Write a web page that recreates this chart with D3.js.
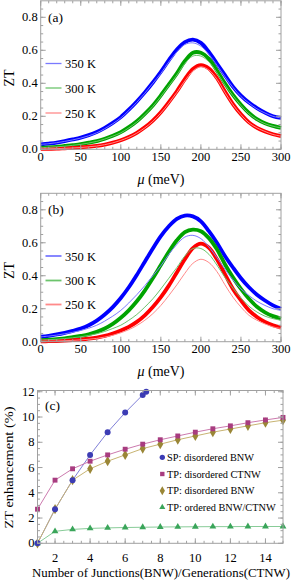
<!DOCTYPE html>
<html>
<head>
<meta charset="utf-8">
<script src="https://cdn.jsdelivr.net/npm/d3@7"></script>
<style>
  body { margin: 0; background: #fff; }
  svg text { font-family: "Liberation Serif", "Times New Roman", "DejaVu Serif", serif; }
</style>
</head>
<body>
<div id="chart"></div>
<script>
// chemical potential grid (meV)
const mu = [0,10,20,30,40,50,60,70,80,90,100,110,120,130,140,150,160,170,180,190,200,210,220,230,240,250,260,270,280,290,300];

// thin curves (ordered reference), shared by (a) and (b)
const thin350 = [0.03,0.034,0.04,0.048,0.057,0.068,0.082,0.1,0.125,0.155,0.19,0.235,0.285,0.34,0.4,0.46,0.53,0.59,0.635,0.645,0.625,0.575,0.51,0.44,0.375,0.32,0.28,0.245,0.22,0.2,0.19];
const thin300 = [0.01,0.012,0.015,0.019,0.024,0.03,0.038,0.048,0.062,0.08,0.1,0.13,0.165,0.21,0.26,0.32,0.385,0.45,0.52,0.565,0.565,0.53,0.465,0.39,0.325,0.265,0.215,0.18,0.155,0.14,0.13];
const thin250 = [0.002,0.003,0.004,0.006,0.008,0.011,0.015,0.02,0.028,0.039,0.054,0.073,0.098,0.13,0.17,0.22,0.28,0.345,0.415,0.475,0.5,0.48,0.425,0.345,0.27,0.21,0.16,0.13,0.108,0.09,0.08];

// thick curves, panel (a)
const thickA350 = [0.03,0.035,0.041,0.05,0.06,0.071,0.086,0.105,0.13,0.16,0.195,0.24,0.29,0.345,0.405,0.47,0.54,0.605,0.65,0.665,0.645,0.59,0.52,0.45,0.38,0.325,0.283,0.25,0.222,0.2,0.19];
const thickA300 = [0.01,0.012,0.015,0.02,0.025,0.031,0.04,0.05,0.064,0.082,0.104,0.134,0.17,0.215,0.266,0.327,0.393,0.46,0.535,0.585,0.585,0.548,0.478,0.4,0.33,0.27,0.22,0.183,0.158,0.142,0.13];
const thickA250 = [0.002,0.003,0.004,0.006,0.008,0.012,0.016,0.021,0.029,0.04,0.055,0.075,0.1,0.133,0.174,0.225,0.286,0.352,0.425,0.487,0.51,0.49,0.432,0.35,0.274,0.212,0.163,0.13,0.108,0.091,0.08];

// thick curves, panel (b)
const thickB350 = [0.03,0.036,0.044,0.054,0.066,0.08,0.1,0.128,0.165,0.21,0.265,0.33,0.405,0.485,0.565,0.64,0.7,0.745,0.765,0.76,0.73,0.67,0.6,0.52,0.45,0.385,0.33,0.285,0.25,0.22,0.2];
const thickB300 = [0.01,0.012,0.016,0.02,0.027,0.035,0.045,0.06,0.08,0.108,0.145,0.19,0.245,0.31,0.385,0.465,0.545,0.615,0.665,0.68,0.67,0.628,0.56,0.47,0.39,0.32,0.26,0.212,0.178,0.155,0.14];
const thickB250 = [0.002,0.003,0.004,0.006,0.009,0.013,0.018,0.025,0.035,0.05,0.068,0.09,0.12,0.16,0.21,0.27,0.34,0.42,0.5,0.568,0.595,0.57,0.5,0.41,0.32,0.25,0.19,0.15,0.12,0.1,0.085];

const tempLabels = ["350 K", "300 K", "250 K"];

// panel (c)
const spX = [1,2,3,4,5,6,7,7.2];
const spY = [0,2.7,5.0,7.0,8.8,10.35,11.75,12.0];
const nX = [1,2,3,4,5,6,7,8,9,10,11,12,13,14,15];
const tpCtnw = [2.7,5.0,5.9,6.5,7.0,7.45,7.85,8.2,8.5,8.8,9.07,9.3,9.55,9.77,9.97];
const tpBnw = [0,2.7,5.0,5.9,6.5,7.0,7.5,7.85,8.2,8.5,8.8,9.05,9.3,9.55,9.75];
const tpOrd = [0,0.95,1.1,1.18,1.22,1.25,1.27,1.29,1.3,1.31,1.32,1.32,1.33,1.33,1.33];
const legendC = ["SP: disordered BNW", "TP: disordered CTNW", "TP: disordered BNW", "TP: ordered BNW/CTNW"];

const W = 291, H = 582;
const svg = d3.select("#chart").append("svg").attr("width", W).attr("height", H)
  .attr("font-family", "'Liberation Serif', 'Times New Roman', serif");

const thickCol = ["#0000ff", "#00a300", "#ff0000"];
const thinCol = ["#7a7aff", "#6cc46c", "#ff8a8a"];
const frameCol = "#a0a0a0";

function frame(x, y, xMajor, xMinor, yMajor, yMinor) {
  const g = svg.append("g");
  const [x0, x1] = x.range(), [y0, y1] = y.range();
  g.append("rect").attr("x", x0).attr("y", y1).attr("width", x1 - x0).attr("height", y0 - y1)
    .attr("fill", "none").attr("stroke", frameCol).attr("stroke-width", 1);
  const tk = (vals, len, horiz) => vals.forEach(v => {
    if (horiz) {
      const px = x(v);
      g.append("line").attr("x1", px).attr("x2", px).attr("y1", y0).attr("y2", y0 - len).attr("stroke", frameCol);
      g.append("line").attr("x1", px).attr("x2", px).attr("y1", y1).attr("y2", y1 + len).attr("stroke", frameCol);
    } else {
      const py = y(v);
      g.append("line").attr("y1", py).attr("y2", py).attr("x1", x0).attr("x2", x0 + len).attr("stroke", frameCol);
      g.append("line").attr("y1", py).attr("y2", py).attr("x1", x1).attr("x2", x1 - len).attr("stroke", frameCol);
    }
  });
  tk(xMinor, 2.5, true); tk(xMajor, 5, true);
  tk(yMinor, 2.5, false); tk(yMajor, 5, false);
  return g;
}

function tickLabels(x, y, xMajor, yMajor, fmtY, xOff) {
  const [x0] = x.range(), [y0] = y.range();
  svg.append("g").selectAll("text").data(xMajor).join("text")
    .attr("x", d => x(d)).attr("y", y0 + xOff).attr("text-anchor", "middle")
    .attr("font-size", 12.5).text(d => d);
  svg.append("g").selectAll("text").data(yMajor).join("text")
    .attr("x", x0 - 3).attr("y", d => y(d) + 4).attr("text-anchor", "end")
    .attr("font-size", 12.5).text(fmtY);
}

function zt(top, bottom, thick, label, legendRows, thickLegend) {
  const x = d3.scaleLinear().domain([0, 300]).range([40.7, 281]);
  const y = d3.scaleLinear().domain([0, 0.9]).range([bottom, top]);
  const line = d3.line().x((d, i) => x(mu[i])).y(d => y(d)).curve(d3.curveCatmullRom);
  const thinSets = [thin350, thin300, thin250];
  const plot = svg.append("g");
  thick.forEach((s, i) => plot.append("path").attr("d", line(s)).attr("fill", "none")
    .attr("stroke", thickCol[i]).attr("stroke-width", 3.8));
  thinSets.forEach((s, i) => plot.append("path").attr("d", line(s)).attr("fill", "none")
    .attr("stroke", thinCol[i]).attr("stroke-width", 1));
  frame(x, y, d3.range(0, 301, 50), d3.range(0, 301, 10), d3.range(0, 0.81, 0.2), d3.range(0, 0.9, 0.05));
  tickLabels(x, y, d3.range(0, 301, 50), d3.range(0, 0.81, 0.2), d3.format(".1f"), 11.5);
  svg.append("text").attr("x", 48).attr("y", top + 21).attr("font-size", 13.5).text(label);
  svg.append("text").attr("transform", `translate(13.5,${(top + bottom) / 2 + 3}) rotate(-90)`)
    .attr("text-anchor", "middle").attr("font-size", 14).text("ZT");
  const xl = svg.append("text").attr("x", 161).attr("y", bottom + 34.5).attr("text-anchor", "middle").attr("font-size", 14);
  xl.append("tspan").attr("font-style", "italic").text("μ");
  xl.append("tspan").text(" (meV)");
  tempLabels.forEach((t, i) => {
    const ry = legendRows[i];
    svg.append("line").attr("x1", 45.5).attr("x2", 61.5).attr("y1", ry).attr("y2", ry)
      .attr("stroke", thinCol[i]).attr("stroke-width", thickLegend);
    svg.append("text").attr("x", 65).attr("y", ry + 4.5).attr("font-size", 12.5).text(t);
  });
}

zt(0.8, 149.3, [thickA350, thickA300, thickA250], "(a)", [63.5, 88, 113], 1.3);
zt(193.3, 341.7, [thickB350, thickB300, thickB250], "(b)", [256, 280.5, 304.5], 1.8);

// panel (c)
const xc = d3.scaleLinear().domain([1, 15]).range([37.5, 283]);
const yc = d3.scaleLinear().domain([0, 12.1]).range([543.3, 390.5]);
const cMarker = ["#3c3cb4", "#a83c80", "#9a8636", "#3aa55a"];
const cLine = ["#8080d8", "#cc7aae", "#c8b472", "#88cc98"];
const series = [
  { xs: spX, ys: spY, sym: d3.symbolCircle, size: 28 },
  { xs: nX, ys: tpCtnw, sym: d3.symbolSquare, size: 24 },
  { xs: nX, ys: tpBnw, sym: d3.symbolDiamond, size: 30 },
  { xs: nX, ys: tpOrd, sym: d3.symbolTriangle, size: 20 }
];
const gc = svg.append("g");
series.forEach((s, k) => {
  const ln = d3.line().x((d, i) => xc(s.xs[i])).y(d => yc(d));
  gc.append("path").attr("d", ln(s.ys)).attr("fill", "none").attr("stroke", cLine[k]).attr("stroke-width", 1);
});
[3, 2, 1, 0].forEach(k => {
  const s = series[k];
  gc.append("g").selectAll("path").data(s.ys).join("path")
    .attr("transform", (d, i) => `translate(${xc(s.xs[i])},${yc(d)})`)
    .attr("d", d3.symbol().type(s.sym).size(s.size)).attr("fill", cMarker[k]);
});
frame(xc, yc, d3.range(2, 15, 2), d3.range(1, 15.01, 0.5), d3.range(0, 12.1, 2), d3.range(0, 12.1, 0.5));
tickLabels(xc, yc, d3.range(2, 15, 2), d3.range(0, 12.1, 2), d => d, 19);
svg.append("text").attr("x", 45).attr("y", 410).attr("font-size", 13.5).text("(c)");
svg.append("text").attr("transform", `translate(13,467.5) rotate(-90)`).attr("text-anchor", "middle")
  .attr("font-size", 13).attr("textLength", 122).attr("lengthAdjust", "spacingAndGlyphs").text("ZT enhancement (%)");
svg.append("text").attr("x", 161).attr("y", 577).attr("text-anchor", "middle").attr("font-size", 12.5)
  .attr("textLength", 258).attr("lengthAdjust", "spacingAndGlyphs").text("Number of Junctions(BNW)/Generations(CTNW)");
legendC.forEach((t, k) => {
  const ry = [457.3, 474, 490.7, 507.3][k];
  svg.append("path").attr("transform", `translate(162.3,${ry})`)
    .attr("d", d3.symbol().type(series[k].sym).size(series[k].size * 0.8)).attr("fill", cMarker[k]);
  svg.append("text").attr("x", 167).attr("y", ry + 3.5).attr("font-size", 10.3).text(t);
});
</script>
</body>
</html>
